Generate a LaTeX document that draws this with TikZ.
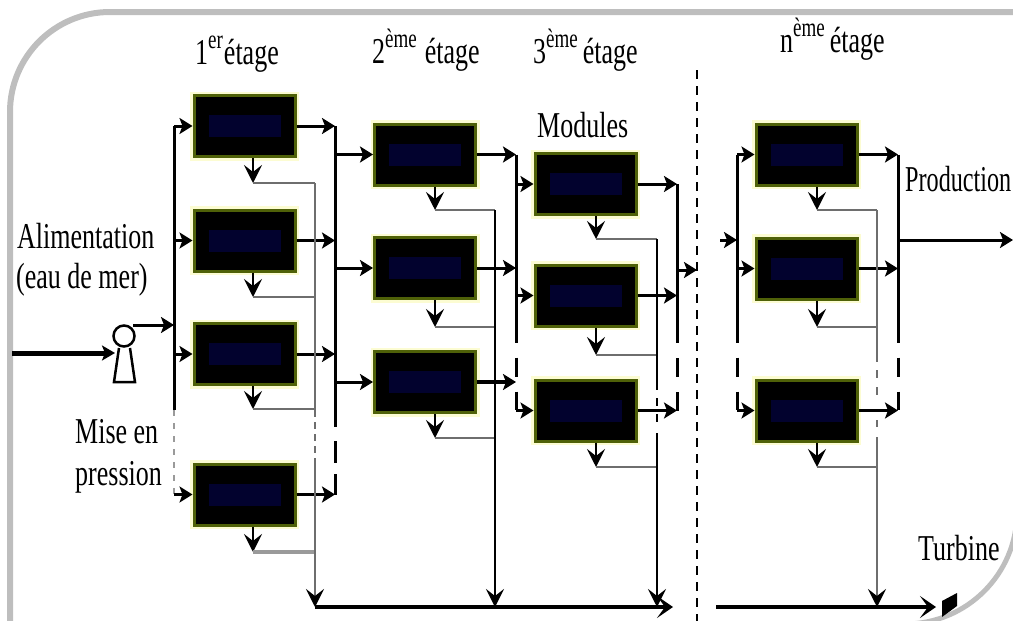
\documentclass[tikz,border=0pt]{standalone}
\usepackage{fontspec}
\setmainfont{Liberation Serif}
\usetikzlibrary{arrows.meta}

\definecolor{modedge}{HTML}{4F6108}
\definecolor{modhalo}{HTML}{FCFCD2}
\definecolor{modcore}{HTML}{02022E}
\definecolor{framegray}{HTML}{BEBEBE}
\definecolor{brinegray}{HTML}{6E6E6E}

\newcommand{\supa}[1]{\raisebox{11pt}{\fontsize{19}{19}\selectfont #1}}

\tikzset{
    module/.style={draw=modedge, line width=3pt, fill=black, minimum width=101pt, minimum height=61pt,
        inner sep=0pt, preaction={draw=modhalo, line width=8pt},
        path picture={\fill[modcore] (path picture bounding box.center) ++(-36pt,-11pt) rectangle ++(72pt,22pt);}},
    lbl/.style={font=\fontsize{26}{28}\selectfont, inner sep=0pt, anchor=base west, yscale=1.4, transform shape},
    bus/.style={line width=3pt, black},
    feed/.style={line width=3pt, black, -{Stealth[length=13pt,width=16pt,inset=3pt]}},
    drain/.style={line width=2pt, black, -{Stealth[length=18pt,width=18pt,inset=7pt]}},
    brine/.style={line width=2pt, brinegray},
    thinb/.style={line width=1.8pt, black},
    main/.style={line width=4pt, black, -{Stealth[length=16pt,width=22pt,inset=8pt]}},
    stagedash/.style={dash pattern=on 188pt off 15pt on 19pt off 15pt on 18pt}
}

\begin{document}
\begin{tikzpicture}[x=1pt,y=-1pt]
\useasboundingbox (0,0) rectangle (1013,621);
% frame
\draw[line width = 6pt, framegray, rounded corners=100pt] (10,640) -- (10,12) -- (1060,12);
\draw[line width = 5pt, framegray, rounded corners=112pt] (1017,400) -- (1017,624) -- (800,624);
% modules
\node[module] (m1a) at (244.5,126) {};
\node[module] (m1b) at (244.5,240.5) {};
\node[module] (m1c) at (244.5,354) {};
\node[module] (m1d) at (244.5,494.5) {};
\node[module] (m2a) at (425,154.5) {};
\node[module] (m2b) at (425,268) {};
\node[module] (m2c) at (425,382) {};
\node[module] (m3a) at (585.5,184) {};
\node[module] (m3b) at (585.5,295.5) {};
\node[module] (m3c) at (585.5,410.5) {};
\node[module] (mna) at (806.5,154.5) {};
\node[module] (mnb) at (806.5,268.5) {};
\node[module] (mnc) at (806.5,410.5) {};
% bus ends
\coordinate (inA) at (174,126);
\coordinate (inB) at (174,410);
\coordinate (inC) at (174,495);
\coordinate (outA) at (335,126);
\coordinate (outB) at (335,495);
\coordinate (outC) at (516,154.5);
\coordinate (outD) at (516,410.5);
\coordinate (outE) at (677,184);
\coordinate (outF) at (677,410.5);
\coordinate (outG) at (697,270);
\coordinate (inD) at (737,154.5);
\coordinate (inE) at (737,410.5);
\coordinate (inF) at (720,240);
\coordinate (outH) at (898,154.5);
\coordinate (outI) at (898,410.5);
\coordinate (prod) at (1013,240);
% brine collectors
\coordinate (brA) at (315,183);
\coordinate (brB) at (495,210);
\coordinate (brC) at (657,239);
\coordinate (brD) at (877,210);
\coordinate (brE) at (315,600);
\coordinate (brF) at (495,600);
\coordinate (brG) at (657,600);
\coordinate (brH) at (877,600);
% bottom lines
\coordinate (botA) at (315,607);
\coordinate (botB) at (673,607);
\coordinate (botC) at (716,607);
\coordinate (botD) at (936,607);
% module brine outlets
\coordinate (o1a) at (253,183);
\coordinate (o1b) at (253,297);
\coordinate (o1c) at (253,409);
\coordinate (o1d) at (253,552);
\coordinate (o2a) at (435,210);
\coordinate (o2b) at (435,327);
\coordinate (o2c) at (435,438);
\coordinate (o3a) at (596,239);
\coordinate (o3b) at (596,355);
\coordinate (o3c) at (596,467);
\coordinate (ona) at (817,210);
\coordinate (onb) at (817,327);
\coordinate (onc) at (817,467);
% pump
\node[circle, draw, line width=2.5pt, minimum size=21pt, inner sep=0pt] (pump) at (124,336) {};
\draw[line width=2.5pt] (119,348) -- (114,382) -- (135,382) -- (130,348);
\coordinate (feedin) at (12,353);
\coordinate (feedtip) at (115,353);
\coordinate (pumpout) at (133,325);
\draw[line width=5pt, -{Stealth[length=13pt,width=15pt,inset=3pt]}] (feedin) -- (feedtip);
\draw[feed] (pumpout) -- (pumpout -| inA);
% stage 1
\draw[bus] (inA) -- (inB);
\draw[line width=2.5pt, brinegray!70, dash pattern=on 6pt off 7pt] (inB) -- (inC);
\draw[bus, dash pattern=on 301pt off 14pt on 22pt off 11pt on 30pt] (outA) -- (outB);
\draw[feed] (inA |- m1a) -- (m1a.west);
\draw[feed] (inA |- m1b) -- (m1b.west);
\draw[feed] (inA |- m1c) -- (m1c.west);
\draw[feed] (inA |- m1d) -- (m1d.west);
\draw[feed] (m1a.east) -- (outA |- m1a);
\draw[feed] (m1b.east) -- (outA |- m1b);
\draw[feed] (m1c.east) -- (outA |- m1c);
\draw[feed] (m1d.east) -- (outA |- m1d);
\draw[drain] (o1a |- m1a.south) -- (o1a);
\draw[drain] (o1b |- m1b.south) -- (o1b);
\draw[drain] (o1c |- m1c.south) -- (o1c);
\draw[drain] (o1d |- m1d.south) -- (o1d);
\draw[brine] (o1a) -- (o1a -| brA);
\draw[brine] (o1b) -- (o1b -| brA);
\draw[brine] (o1c) -- (o1c -| brA);
\draw[brine, line width=4pt, brinegray!70] (o1d) -- (o1d -| brA);
\draw[brine, dash pattern=on 234pt off 5pt on 7pt off 5pt on 7pt off 5pt on 7pt off 5pt on 400pt] (brA) -- (brE);
% stage 2
\draw[feed] (outA |- m2a) -- (m2a.west);
\draw[feed] (outA |- m2b) -- (m2b.west);
\draw[feed] (outA |- m2c) -- (m2c.west);
\draw[feed] (m2a.east) -- (outC |- m2a);
\draw[feed] (m2b.east) -- (outC |- m2b);
\draw[feed, line width=4pt] (m2c.east) -- (outC |- m2c);
\draw[bus, stagedash] (outC) -- (outD);
\draw[drain] (o2a |- m2a.south) -- (o2a);
\draw[drain] (o2b |- m2b.south) -- (o2b);
\draw[drain] (o2c |- m2c.south) -- (o2c);
\draw[brine] (o2a) -- (o2a -| brB);
\draw[brine] (o2b) -- (o2b -| brB);
\draw[brine] (o2c) -- (o2c -| brB);
\draw[thinb] (brB) -- (brF);
% stage 3
\draw[feed] (outC |- m3a) -- (m3a.west);
\draw[feed] (outC |- m3b) -- (m3b.west);
\draw[feed] (outC |- m3c) -- (m3c.west);
\draw[feed] (m3a.east) -- (outE |- m3a);
\draw[feed] (m3b.east) -- (outE |- m3b);
\draw[feed] (m3c.east) -- (outE |- m3c);
\draw[bus, dash pattern=on 159pt off 15pt on 19pt off 15pt on 19pt] (outE) -- (outF);
\draw[feed] (outE |- outG) -- (outG);
\draw[drain] (o3a |- m3a.south) -- (o3a);
\draw[drain] (o3b |- m3b.south) -- (o3b);
\draw[drain] (o3c |- m3c.south) -- (o3c);
\draw[brine] (o3a) -- (o3a -| brC);
\draw[brine] (o3b) -- (o3b -| brC);
\draw[brine] (o3c) -- (o3c -| brC);
\draw[thinb, dash pattern=on 151pt off 8pt on 8pt off 8pt on 8pt off 11pt on 200pt] (brC) -- (brG);
% stage n
\draw[line width = 2pt, black, dash pattern=on 9pt off 7pt] (697,70) -- (697,621);
\draw[feed] (inF) -- (inF -| inD);
\draw[bus, stagedash] (inD) -- (inE);
\draw[bus, stagedash] (outH) -- (outI);
\draw[feed] (inD |- mna) -- (mna.west);
\draw[feed] (inD |- mnb) -- (mnb.west);
\draw[feed] (inD |- mnc) -- (mnc.west);
\draw[feed] (mna.east) -- (outH |- mna);
\draw[feed] (mnb.east) -- (outH |- mnb);
\draw[feed] (mnc.east) -- (outH |- mnc);
\draw[feed] (outH |- prod) -- (prod);
\draw[drain] (ona |- mna.south) -- (ona);
\draw[drain] (onb |- mnb.south) -- (onb);
\draw[drain] (onc |- mnc.south) -- (onc);
\draw[brine] (ona) -- (ona -| brD);
\draw[brine] (onb) -- (onb -| brD);
\draw[brine] (onc) -- (onc -| brD);
\draw[brine, dash pattern=on 152pt off 8pt on 8pt off 9pt on 8pt off 25pt on 7pt off 10pt on 200pt] (brD) -- (brH);
% bottom
\draw[drain] (brE) -- (botA);
\draw[drain] (brF) -- (brF |- botA);
\draw[drain] (brG) -- (brG |- botA);
\draw[drain] (brH) -- (brH |- botA);
\draw[main] (botA) -- (botB);
\draw[main] (botC) -- (botD);
\fill[black] (942,601) -- (957,593) -- (957,606) -- (942,617) -- cycle;
% labels
\node[lbl] (t1) at (195,64) {1\supa{er}\hspace{1pt}étage};
\node[lbl] (t2) at (372,63) {2\supa{ème}\hspace{8pt}étage};
\node[lbl] (t3) at (533,63) {3\supa{ème}\hspace{5pt}étage};
\node[lbl] (t4) at (780,52) {n\supa{ème}\hspace{5pt}étage};
\node[lbl] (modules) at (537,137) {Modules};
\node[lbl] (alim) at (17,248) {Alimentation};
\node[lbl] (eau) at (16,288) {(eau de mer)};
\node[lbl] (mise) at (75,443) {Mise en};
\node[lbl] (press) at (75,485) {pression};
\node[lbl, xscale=0.93] (product) at (905,191) {Production};
\node[lbl] (turb) at (918,560) {Turbine};
\end{tikzpicture}
\end{document}
